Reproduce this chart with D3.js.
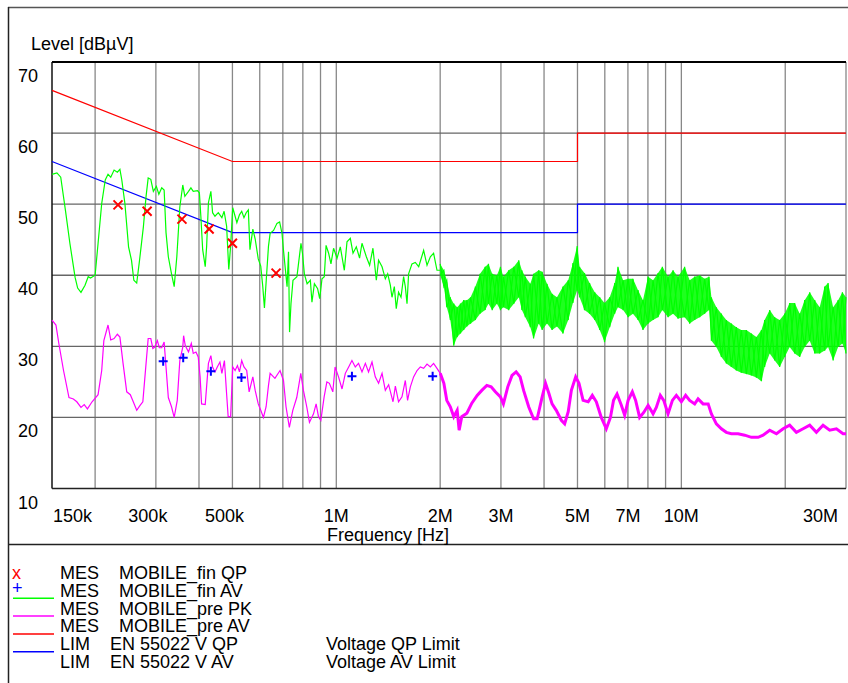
<!DOCTYPE html>
<html>
<head>
<meta charset="utf-8">
<script src="https://cdn.jsdelivr.net/npm/d3@7"></script>
<style>
  body { margin: 0; background: #fff; }
  svg text { font-family: "Liberation Sans", Arial, sans-serif; font-size: 18px; fill: #000; }
</style>
</head>
<body>
<div id="chart"></div>
<script>
// frequencies in MHz, levels in dBµV
const tickFreqs = [0.15, 0.3, 0.5, 1, 2, 3, 5, 7, 10, 30]
const tickLabels = ["150k", "300k", "500k", "1M", "2M", "3M", "5M", "7M", "10M", "30M"]
const levelTicks = [10, 20, 30, 40, 50, 60, 70]

// limit lines
const limFreq = [0.15, 0.5, 5, 5, 30]
const qpLimit = [66, 56, 56, 60, 60]
const avLimit = [56, 46, 46, 50, 50]

// pre scan peak (green), single trace below 2 MHz
const pkFreq = [0.150,0.155,0.159,0.164,0.169,0.175,0.178,0.182,0.187,0.191,0.194,0.200,0.204,0.209,0.214,0.218,0.222,0.227,0.232,0.236,
  0.239,0.244,0.250,0.255,0.259,0.264,0.269,0.276,0.281,0.285,0.290,0.295,0.301,0.306,0.312,0.317,0.321,0.326,0.333,0.339,
  0.345,0.352,0.359,0.364,0.373,0.379,0.385,0.396,0.401,0.405,0.410,0.417,0.421,0.426,0.433,0.438,0.445,0.455,0.466,0.473,
  0.481,0.488,0.494,0.501,0.509,0.515,0.524,0.532,0.540,0.548,0.556,0.562,0.573,0.582,0.594,0.604,0.612,0.619,0.636,0.643,
  0.658,0.673,0.685,0.696,0.703,0.720,0.727,0.732,0.739,0.749,0.769,0.790,0.798,0.808,0.823,0.841,0.850,0.864,0.883,0.895,
  0.909,0.923,0.934,0.950,0.965,0.982,1.005,1.027,1.055,1.074,1.098,1.118,1.143,1.168,1.187,1.222,1.249,1.277,1.306,1.326,
  1.357,1.387,1.409,1.434,1.450,1.473,1.492,1.515,1.540,1.567,1.585,1.603,1.620,1.657,1.694,1.733,1.791,1.832,1.873,1.914,
  1.958,2.001]
const pkLevel = [54.2,54.4,53.8,49.2,44.5,39.7,38.2,37.6,38.6,39.8,39.6,40.0,44.5,50.1,53.4,54.2,53.8,54.8,54.5,54.9,
  53.4,50.1,44.0,42.1,39.3,38.9,42.1,46.8,51.1,53.7,53.5,51.8,52.5,51.4,52.3,52.0,46.0,42.6,40.2,38.4,
  42.6,49.6,52.7,51.1,51.8,52.3,51.8,51.9,51.6,48.3,43.6,41.2,44.1,50.2,51.8,48.8,48.3,48.8,48.1,49.0,
  46.9,40.8,44.1,49.5,48.3,47.4,48.5,49.0,48.1,48.8,49.2,43.6,46.5,45.1,42.3,41.3,38.5,35.4,44.1,45.9,
  46.3,47.3,47.5,45.9,43.5,38.4,43.3,32.0,36.0,39.3,39.8,44.5,43.1,40.2,38.8,39.3,36.2,38.8,38.1,36.7,
  39.5,39.8,44.2,43.1,41.6,43.8,42.4,44.0,40.7,44.7,45.2,43.1,44.0,42.4,44.5,42.6,41.4,43.8,39.3,42.1,
  41.2,39.5,40.2,38.6,36.9,38.4,35.3,37.6,36.9,39.8,38.4,36.0,40.2,41.6,41.8,41.2,43.5,41.4,42.6,43.1,
  40.7,40.7]

// pre scan peak above 2 MHz, dense noise read as upper / lower envelope
const pkBandFreq = [2.00,2.05,2.09,2.14,2.19,2.24,2.29,2.34,2.39,2.45,2.53,2.61,2.70,2.76,2.83,2.92,2.99,3.05,3.16,3.27,
  3.38,3.45,3.53,3.65,3.73,3.86,3.95,4.08,4.22,4.36,4.54,4.70,4.85,4.99,5.07,5.24,5.42,5.61,5.80,5.99,
  6.20,6.41,6.55,6.78,7.01,7.24,7.49,7.74,8.01,8.28,8.56,8.81,9.15,9.46,9.78,10.22,10.57,10.93,11.30,11.68,
  12.03,12.22,12.63,13.06,13.50,13.96,14.43,14.92,15.43,15.96,16.50,17.06,17.43,18.03,18.64,19.27,19.93,20.60,21.30,22.03,
  22.77,23.55,24.35,25.17,26.03,26.62,27.53,28.46,29.29,30.0]
const pkBandHigh = [41.6,40.7,39.3,36.9,36.0,35.5,36.0,36.5,36.5,36.9,38.4,40.2,41.2,41.6,40.2,40.0,41.2,39.8,40.7,41.2,
  42.1,40.7,39.8,38.8,40.2,40.7,40.5,38.8,37.4,36.9,38.4,39.3,41.7,44.1,41.2,40.3,38.9,37.6,36.9,36.1,
  36.9,38.9,41.2,39.3,39.5,39.5,37.9,36.5,39.8,39.3,40.3,41.2,39.8,40.7,39.8,41.2,39.3,39.8,40.0,39.5,
  39.8,36.9,35.5,34.6,33.7,33.2,32.7,32.3,32.3,31.8,31.3,32.3,33.7,35.1,34.1,33.7,34.6,36.1,36.1,34.6,
  36.5,37.6,36.5,35.5,38.4,38.9,35.5,36.5,37.6,36.9]
const pkBandLow = [40.0,38.4,35.5,33.7,30.1,31.3,31.8,32.3,32.8,33.2,33.7,34.6,35.1,36.0,35.1,36.0,35.1,35.5,35.1,36.0,
  36.9,35.1,34.1,32.7,31.1,33.2,32.3,33.2,32.3,32.8,31.8,33.7,36.1,37.9,36.9,35.1,34.6,33.7,32.3,30.6,
  32.7,34.6,35.5,35.1,34.1,34.6,33.7,32.3,33.2,33.7,34.1,35.1,34.1,34.6,33.9,34.1,33.2,33.7,34.1,34.6,
  35.1,30.8,29.9,28.5,27.6,27.1,26.6,26.3,26.1,25.9,25.6,25.1,27.1,29.0,28.0,27.1,28.5,29.9,29.0,28.5,
  29.9,30.8,29.0,29.0,29.4,29.9,28.0,29.9,30.4,29.0]

// pre scan average (magenta)
const avFreq = [0.150,0.154,0.157,0.162,0.168,0.173,0.177,0.182,0.186,0.190,0.196,0.204,0.209,0.212,0.218,0.222,0.227,0.232,0.236,0.241,
  0.247,0.253,0.258,0.264,0.270,0.275,0.281,0.285,0.290,0.294,0.298,0.303,0.307,0.312,0.317,0.321,0.326,0.333,0.339,0.346,
  0.352,0.359,0.361,0.365,0.373,0.380,0.385,0.392,0.398,0.403,0.407,0.417,0.426,0.433,0.438,0.445,0.452,0.460,0.466,0.474,
  0.481,0.486,0.494,0.501,0.509,0.517,0.524,0.532,0.540,0.550,0.559,0.573,0.582,0.594,0.604,0.615,0.626,0.636,0.643,0.664,
  0.687,0.703,0.715,0.731,0.748,0.768,0.789,0.803,0.821,0.836,0.859,0.874,0.888,0.902,0.922,0.939,0.955,0.977,0.992,1.015,
  1.039,1.062,1.086,1.110,1.135,1.160,1.187,1.214,1.240,1.269,1.297,1.326,1.357,1.387,1.418,1.460,1.483,1.515,1.550,1.585,
  1.609,1.639,1.675,1.714,1.752,1.791,1.832,1.873,1.914,1.958,2.001,2.05,2.09,2.14,2.19,2.24,2.27,2.31,2.39,2.47,
  2.56,2.64,2.73,2.81,2.89,2.99,3.05,3.14,3.23,3.32,3.41,3.49,3.61,3.73,3.82,3.95,4.04,4.13,4.22,4.34,
  4.49,4.59,4.70,4.80,4.94,5.05,5.19,5.37,5.52,5.67,5.86,6.06,6.23,6.36,6.51,6.70,6.85,7.01,7.21,7.37,
  7.57,7.78,8.01,8.28,8.46,8.69,8.89,9.15,9.42,9.67,10.0,10.29,10.57,10.93,11.18,11.56,11.96,12.22,12.63,13.06,
  13.50,13.96,14.60,15.26,15.96,16.69,17.25,18.03,18.86,19.72,20.60,21.54,22.53,23.55,24.62,25.74,26.91,28.14,29.42,30.0]
const avLevel = [33.7,33.0,30.4,26.6,22.8,22.6,22.2,21.4,21.8,21.2,22.2,23.2,26.6,30.8,33.0,30.9,31.1,31.7,31.3,27.6,
  23.6,23.2,22.2,21.0,21.7,22.2,27.6,31.1,31.1,29.7,29.9,30.8,29.8,29.8,30.6,27.1,22.8,21.5,20.0,22.4,
  28.0,29.9,31.5,30.1,29.2,30.4,29.0,29.2,28.5,25.7,21.9,21.8,27.6,28.7,27.1,26.4,27.1,27.8,26.2,28.0,
  23.3,20.1,20.1,27.1,26.6,27.3,26.4,28.0,27.1,26.6,23.6,25.7,23.8,21.9,21.0,20.0,21.5,24.5,26.2,25.5,
  26.6,25.2,21.5,18.6,21.0,22.8,26.2,23.8,21.5,19.3,20.5,21.9,20.1,19.6,22.9,25.0,24.8,23.6,27.1,25.7,
  24.0,26.2,27.1,28.0,27.1,27.6,26.4,27.6,26.4,27.8,25.7,24.8,26.2,23.8,24.6,22.2,24.4,22.2,22.9,25.2,
  22.4,24.3,25.7,26.6,27.1,26.9,27.5,27.1,27.6,26.9,26.2,24.8,22.4,21.5,20.1,21.0,18.2,20.1,20.6,22.0,
  23.1,23.8,24.5,24.3,23.6,22.9,21.9,24.3,25.9,26.4,25.7,23.8,21.5,19.8,19.8,22.9,24.8,23.4,21.9,21.0,
  19.6,19.1,20.8,23.8,25.7,24.8,22.4,22.2,23.1,22.2,20.0,18.4,20.0,22.4,23.3,21.7,20.3,22.4,23.6,22.4,
  20.0,20.7,21.7,20.5,21.4,23.1,22.4,20.5,22.4,23.1,22.2,23.1,22.4,21.9,22.6,21.9,21.9,20.5,19.1,18.4,
  17.9,17.7,17.7,17.5,17.2,17.2,17.5,18.2,17.7,18.4,18.9,17.9,18.4,18.9,17.9,18.9,18.2,18.4,17.7,17.7]

// final measurements
const qpMarkFreq = [0.233, 0.283, 0.357, 0.428, 0.500, 0.669]
const qpMarkLevel = [49.9, 49.0, 47.9, 46.5, 44.5, 40.3]
const avMarkFreq = [0.315, 0.360, 0.433, 0.531, 1.110, 1.902]
const avMarkLevel = [27.9, 28.4, 26.5, 25.6, 25.8, 25.8]

// legend rows
const legendType = ["MES", "MES", "MES", "MES", "LIM", "LIM"]
const legendName = ["MOBILE_fin QP", "MOBILE_fin AV", "MOBILE_pre PK", "MOBILE_pre AV", "EN 55022 V QP", "EN 55022 V AV"]
const legendNote = ["", "", "", "", "Voltage QP Limit", "Voltage AV Limit"]

const GREEN = "#00ff00", MAGENTA = "#ff00ff", RED = "#ff0000", BLUE = "#0000ff"

const width = 848, height = 683
const svg = d3.select("#chart").append("svg")
  .attr("width", width).attr("height", height)

svg.append("rect").attr("width", width).attr("height", height).attr("fill", "#fff")

const x = d3.scaleLog().domain([0.15, 30]).range([52, 846])
const y = d3.scaleLinear().domain([10, 70]).range([488.5, 62])

// frame
svg.append("line").attr("x1", 8).attr("x2", width).attr("y1", 7.5).attr("y2", 7.5)
  .attr("stroke", "#555").attr("stroke-width", 1.5)
svg.append("line").attr("x1", 8.5).attr("x2", 8.5).attr("y1", 7).attr("y2", height)
  .attr("stroke", "#222").attr("stroke-width", 1.5)
svg.append("line").attr("x1", 8).attr("x2", width).attr("y1", 544.5).attr("y2", 544.5)
  .attr("stroke", "#222").attr("stroke-width", 1.5)

// grid
const grid = svg.append("g")
grid.selectAll(".vg").data(x.ticks().filter(d => d > 0.15 && d < 30))
  .enter().append("line")
  .attr("x1", d => x(d)).attr("x2", d => x(d))
  .attr("y1", y(70)).attr("y2", y(10))
  .attr("stroke", "#888").attr("stroke-width", 1.3)
grid.selectAll(".hg").data(levelTicks.filter(d => d > 10 && d < 70))
  .enter().append("line")
  .attr("x1", x(0.15)).attr("x2", x(30))
  .attr("y1", d => y(d)).attr("y2", d => y(d))
  .attr("stroke", "#666").attr("stroke-width", 1.3)

// plot border
svg.append("line").attr("x1", x(30)).attr("x2", x(30)).attr("y1", y(70)).attr("y2", y(10))
  .attr("stroke", "#888").attr("stroke-width", 1.3)
svg.append("line").attr("x1", x(0.15)).attr("x2", x(0.15)).attr("y1", y(70)).attr("y2", y(10))
  .attr("stroke", "#111").attr("stroke-width", 1.5)
svg.append("line").attr("x1", x(0.15)).attr("x2", x(30)).attr("y1", y(10)).attr("y2", y(10))
  .attr("stroke", "#222").attr("stroke-width", 1.5)

const line = d3.line().x(d => x(d[0])).y(d => y(d[1]))
const zip = (a, b) => a.map((v, i) => [v, b[i]])

// limits
svg.append("path").datum(zip(limFreq, qpLimit)).attr("d", line)
  .attr("fill", "none").attr("stroke", RED).attr("stroke-width", 1.2)
svg.append("path").datum(zip(limFreq, avLimit)).attr("d", line)
  .attr("fill", "none").attr("stroke", BLUE).attr("stroke-width", 1.2)

// green peak trace
svg.append("path").datum(zip(pkFreq, pkLevel)).attr("d", line)
  .attr("fill", "none").attr("stroke", GREEN).attr("stroke-width", 1.2)
const band = pkBandFreq.map((f, i) => ({ f: f, hi: pkBandHigh[i], lo: pkBandLow[i] }))
svg.append("path").datum(band)
  .attr("d", d3.area().x(d => x(d.f)).y0(d => y(d.lo)).y1(d => y(d.hi)))
  .attr("fill", GREEN).attr("fill-opacity", 0.88).attr("stroke", "none")
// noise drawn as a sweep alternating between the read upper and lower values
svg.append("path")
  .datum(band.map((d, i) => [d.f, i % 2 ? d.lo : d.hi]))
  .attr("d", line)
  .attr("fill", "none").attr("stroke", GREEN).attr("stroke-width", 1.2)
svg.append("path")
  .datum(band.map((d, i) => [d.f, i % 2 ? d.hi : d.lo]))
  .attr("d", line)
  .attr("fill", "none").attr("stroke", GREEN).attr("stroke-width", 1.2)

// magenta average trace
const av = zip(avFreq, avLevel)
svg.append("path").datum(av).attr("d", line)
  .attr("fill", "none").attr("stroke", MAGENTA).attr("stroke-width", 1.2)
svg.append("path").datum(av.filter(d => d[0] >= 2)).attr("d", line)
  .attr("fill", "none").attr("stroke", MAGENTA).attr("stroke-width", 3)

// top border drawn over traces
svg.append("line").attr("x1", x(0.15)).attr("x2", x(30)).attr("y1", y(70)).attr("y2", y(70))
  .attr("stroke", "#000").attr("stroke-width", 2.2)

// final measurement markers
svg.selectAll(".qp").data(zip(qpMarkFreq, qpMarkLevel)).enter().append("path")
  .attr("d", d => {
    const cx = x(d[0]), cy = y(d[1]), s = 4.5
    return `M${cx - s},${cy - s}L${cx + s},${cy + s}M${cx - s},${cy + s}L${cx + s},${cy - s}`
  })
  .attr("stroke", RED).attr("stroke-width", 2).attr("fill", "none")
svg.selectAll(".av").data(zip(avMarkFreq, avMarkLevel)).enter().append("path")
  .attr("d", d => {
    const cx = x(d[0]), cy = y(d[1]), s = 4.5
    return `M${cx - s},${cy}L${cx + s},${cy}M${cx},${cy - s}L${cx},${cy + s}`
  })
  .attr("stroke", BLUE).attr("stroke-width", 2).attr("fill", "none")

// axis texts
svg.append("text").attr("x", 31).attr("y", 50).text("Level [dBµV]")
svg.selectAll(".yl").data(levelTicks).enter().append("text")
  .attr("x", 38).attr("y", d => y(d) + 20).attr("text-anchor", "end").text(d => d)
svg.selectAll(".xl").data(tickFreqs).enter().append("text")
  .attr("x", (d, i) => i === 0 ? 53 : i === tickFreqs.length - 1 ? 838 : x(d) - (d < 1 ? 8 : 0))
  .attr("y", 522)
  .attr("text-anchor", (d, i) => i === 0 ? "start" : i === tickFreqs.length - 1 ? "end" : "middle")
  .text((d, i) => tickLabels[i])
svg.append("text").attr("x", 388).attr("y", 541).attr("text-anchor", "middle").text("Frequency [Hz]")

// legend
const rowY = i => 579 + i * 17.8
const leg = svg.append("g").style("font-size", "17.5px")
leg.append("text").attr("x", 12).attr("y", rowY(0)).style("fill", RED).text("x")
leg.append("text").attr("x", 12).attr("y", rowY(1) - 3).style("fill", BLUE).text("+")
const swatch = [GREEN, MAGENTA, RED, BLUE]
swatch.forEach((c, i) => {
  leg.append("line").attr("x1", 13).attr("x2", 54)
    .attr("y1", rowY(i + 1) + 1.5).attr("y2", rowY(i + 1) + 1.5)
    .attr("stroke", c).attr("stroke-width", 1.5)
})
legendType.forEach((t, i) => {
  leg.append("text").attr("x", 60).attr("y", rowY(i)).text(t)
  leg.append("text").attr("x", t === "MES" ? 119 : 110).attr("y", rowY(i)).text(legendName[i])
  if (legendNote[i]) leg.append("text").attr("x", 326).attr("y", rowY(i)).text(legendNote[i])
})
</script>
</body>
</html>
